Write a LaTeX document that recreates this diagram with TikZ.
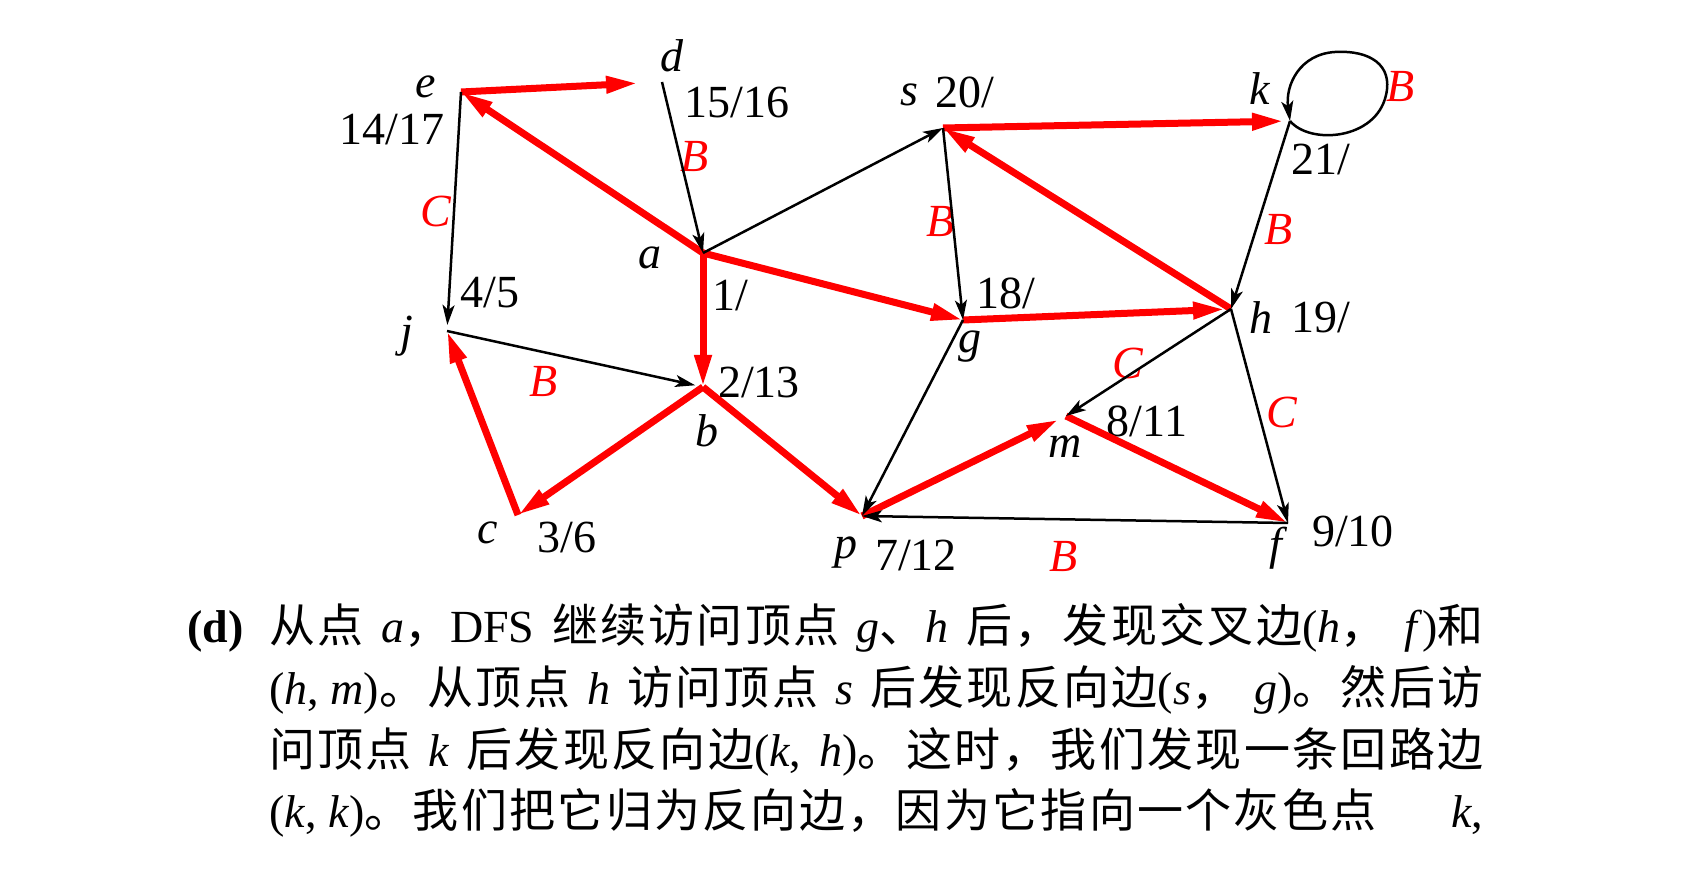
\documentclass[tikz,border=0pt]{standalone}
\usepackage{fontspec}
\setmainfont{Liberation Serif}
\newfontfamily\cjk[LetterSpace=5]{Noto Sans CJK SC}
\usetikzlibrary{arrows.meta}

\begin{document}
\begin{tikzpicture}[
    x=0.5pt, y=-0.5pt,
    every node/.style={inner sep=0pt, font=\fontsize{23}{28}\selectfont},
    cls/.style={text=red, font=\fontsize{23}{28}\selectfont\itshape},
    tree/.style={draw=red, line width=3.5pt, -{Triangle[length=16pt,width=8pt]}},
    back/.style={draw=black, line width=1.25pt, -{Stealth[length=10pt,width=6pt,inset=2.5pt]}},
    line/.style={anchor=base west}
]
\useasboundingbox (0,0) rectangle (1700,870);

% vertices
\coordinate (e) at (461,92);
\coordinate (d) at (662,82);
\coordinate (a) at (703,253);
\coordinate (s) at (943,128);
\coordinate (k) at (1290,121);
\coordinate (j) at (447,331);
\coordinate (b) at (703,387);
\coordinate (g) at (963,320);
\coordinate (h) at (1231,309);
\coordinate (m) at (1066,416);
\coordinate (c) at (518,515);
\coordinate (p) at (862,516);
\coordinate (f) at (1288,523);
\coordinate (kr) at (1386,95);
\coordinate (kt) at (1335,52);

% names and times
\node (e-name) at (426,87) {\textit{e}};
\node (e-time) at (392,130) {14/17};
\node (d-name) at (672,56) {\textit{d}};
\node (d-time) at (737,103) {15/16};
\node (a-name) at (650,258) {\textit{a}};
\node (a-time) at (730,296) {1/};
\node (j-name) at (407,336) {\textit{j}};
\node (j-time) at (490,293) {4/5};
\node (b-name) at (707,431) {\textit{b}};
\node (b-time) at (759,382) {2/13};
\node (c-name) at (488,533) {\textit{c}};
\node (c-time) at (567,537) {3/6};
\node (p-name) at (846,553) {\textit{p}};
\node (p-time) at (916,555) {7/12};
\node (m-name) at (1065,447) {\textit{m}};
\node (m-time) at (1147,421) {8/11};
\node (f-name) at (1279,548) {\textit{f}};
\node (f-time) at (1353,531) {9/10};
\node (g-name) at (970,347) {\textit{g}};
\node (g-time) at (1006,293) {18/};
\node (h-name) at (1261,318) {\textit{h}};
\node (h-time) at (1321,317) {19/};
\node (s-name) at (909,95) {\textit{s}};
\node (s-time) at (965,92) {20/};
\node (k-name) at (1260,89) {\textit{k}};
\node (k-time) at (1321,160) {21/};

% edge classes
\node[cls] (da-cls) at (695,157) {B};
\node[cls] (ej-cls) at (436,211) {C};
\node[cls] (jb-cls) at (544,382) {B};
\node[cls] (sg-cls) at (941,222) {B};
\node[cls] (kh-cls) at (1279,230) {B};
\node[cls] (kk-cls) at (1401,87) {B};
\node[cls] (hm-cls) at (1128,363) {C};
\node[cls] (hf-cls) at (1282,412) {C};
\node[cls] (fp-cls) at (1064,557) {B};

% tree edges
\draw[tree] (a) -- (e);
\draw[tree, shorten >=12pt] (e) -- (d);
\draw[tree] (a) -- (b);
\draw[tree] (a) -- (g);
\draw[tree] (b) -- (c);
\draw[tree] (c) -- (j);
\draw[tree] (b) -- (p);
\draw[tree, shorten >=4pt] (p) -- (m);
\draw[tree] (m) -- (f);
\draw[tree, shorten >=3pt] (g) -- (h);
\draw[tree] (h) -- (s);
\draw[tree, shorten >=3pt] (s) -- (k);

% other edges
\draw[back] (d) -- (a);
\draw[back, shorten >=3pt] (e) -- (j);
\draw[back] (a) -- (s);
\draw[back, shorten >=4pt] (j) -- (b);
\draw[back] (s) -- (g);
\draw[back] (k) -- (h);
\draw[back] (h) -- (m);
\draw[back] (h) -- (f);
\draw[back] (g) -- (p);
\draw[back] (f) -- (p);
\draw[back] (k) .. controls (1310,145) and (1376,140) .. (kr)
    .. controls (1393,65) and (1370,50) .. (kt)
    .. controls (1300,54) and (1285,85) .. (k);

% caption
\node[line] (txt-d) at (187,642) {\textbf{(d)}};
\node[line] (txt-1) at (269,642) {\makebox[607pt][s]{{\cjk 从点} \textit{a}{\cjk ，}DFS {\cjk 继续访问顶点} \textit{g}{\cjk 、}\textit{h} {\cjk 后，发现交叉边}(\textit{h}{\cjk ，} \textit{f}){\cjk 和}}};
\node[line] (txt-2) at (269,704) {\makebox[607pt][s]{(\textit{h},\hspace{0.25em}\textit{m}){\cjk 。从顶点} \textit{h} {\cjk 访问顶点} \textit{s} {\cjk 后发现反向边}(\textit{s}{\cjk ，} \textit{g}){\cjk 。然后访}}};
\node[line] (txt-3) at (269,766) {\makebox[607pt][s]{{\cjk 问顶点} \textit{k} {\cjk 后发现反向边}(\textit{k}, \textit{h}){\cjk 。这时，我们发现一条回路边}}};
\node[line] (txt-4) at (269,827) {\makebox[607pt][s]{(\textit{k},\hspace{0.25em}\textit{k}){\cjk 。我们把它归为反向边，因为它指向一个灰色点} \textit{k},}};
\end{tikzpicture}
\end{document}
